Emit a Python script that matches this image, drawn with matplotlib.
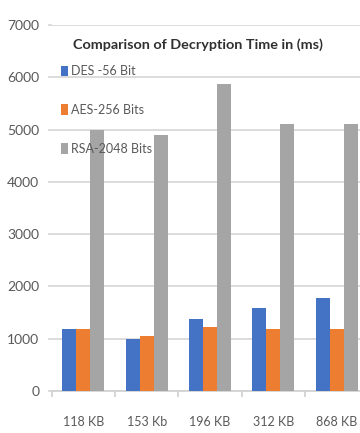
import matplotlib
matplotlib.use("Agg")
import matplotlib.pyplot as plt
from matplotlib import font_manager
from matplotlib.patches import Patch
import numpy as np

categories = ["118 KB", "153 Kb", "196 KB", "312 KB", "868 KB"]
series_names = ["DES -56 Bit", "AES-256 Bits", "RSA-2048 Bits"]
des_values = [1190, 990, 1380, 1580, 1770]
aes_values = [1190, 1060, 1215, 1190, 1190]
rsa_values = [5000, 4890, 5880, 5100, 5100]
y_ticks = [0, 1000, 2000, 3000, 4000, 5000, 6000, 7000]
title_text = "Comparison of Decryption Time in (ms)"

colors = ["#4472C4", "#ED7D31", "#A5A5A5"]

available = {f.name for f in font_manager.fontManager.ttflist}
font = "DejaVu Sans"
for cand in ["Liberation Sans Narrow", "Lato", "Open Sans", "Liberation Sans"]:
    if cand in available:
        font = cand
        break
plt.rcParams["font.family"] = [font, "DejaVu Sans"]

W, H = 360, 433
fig = plt.figure(figsize=(W / 100, H / 100), dpi=100)
fig.patch.set_facecolor("white")

left_px, right_px, bottom_px, top_px = 51.7, 368.3, 391, 25
ax = fig.add_axes([left_px / W, (H - bottom_px) / H,
                   (right_px - left_px) / W, (bottom_px - top_px) / H])

x = np.arange(len(categories))
bw = 0.22
all_vals = [des_values, aes_values, rsa_values]
for i, (vals, c) in enumerate(zip(all_vals, colors)):
    ax.bar(x + (i - 1) * bw, vals, width=bw, color=c, zorder=3, linewidth=0)

ax.set_xlim(-0.5, len(categories) - 0.5)
ax.set_ylim(0, 7000)
ax.set_yticks(y_ticks)
ax.set_yticklabels([str(v) for v in y_ticks])
ax.grid(axis="y", color="#d9d9d9", linewidth=1.3, zorder=0)
ax.set_axisbelow(True)

for s in ["top", "right", "left"]:
    ax.spines[s].set_visible(False)
ax.spines["bottom"].set_color("#d0d0d0")
ax.spines["bottom"].set_linewidth(1.2)

ax.set_xticks(np.arange(len(categories) + 1) - 0.5)
ax.set_xticklabels([])
ax.set_xticks(x, minor=True)
ax.set_xticklabels(categories, minor=True)
ax.tick_params(axis="x", which="major", length=4, color="#d0d0d0", width=1.2)
ax.tick_params(axis="x", which="minor", length=0, pad=18, labelsize=9,
               labelcolor="#595959")
ax.tick_params(axis="y", length=3, color="#d9d9d9", width=1.3, pad=6,
               labelsize=10, labelcolor="#595959")

fig.text(73 / W, 1 - 45 / H, title_text, ha="left", va="center",
         fontsize=10.4, fontweight="bold", color="#303030")

handles = [Patch(facecolor=c, edgecolor="none") for c in colors]
leg = fig.legend(handles, series_names, loc="upper left",
                 bbox_to_anchor=(61 / W, 1 - 65 / H),
                 frameon=False, fontsize=9, handlelength=0.55,
                 handleheight=0.9, handletextpad=0.25, labelspacing=2.15,
                 borderaxespad=0, borderpad=0)
for t in leg.get_texts():
    t.set_color("#595959")

fig.savefig("out.png", dpi=100, facecolor="white")
